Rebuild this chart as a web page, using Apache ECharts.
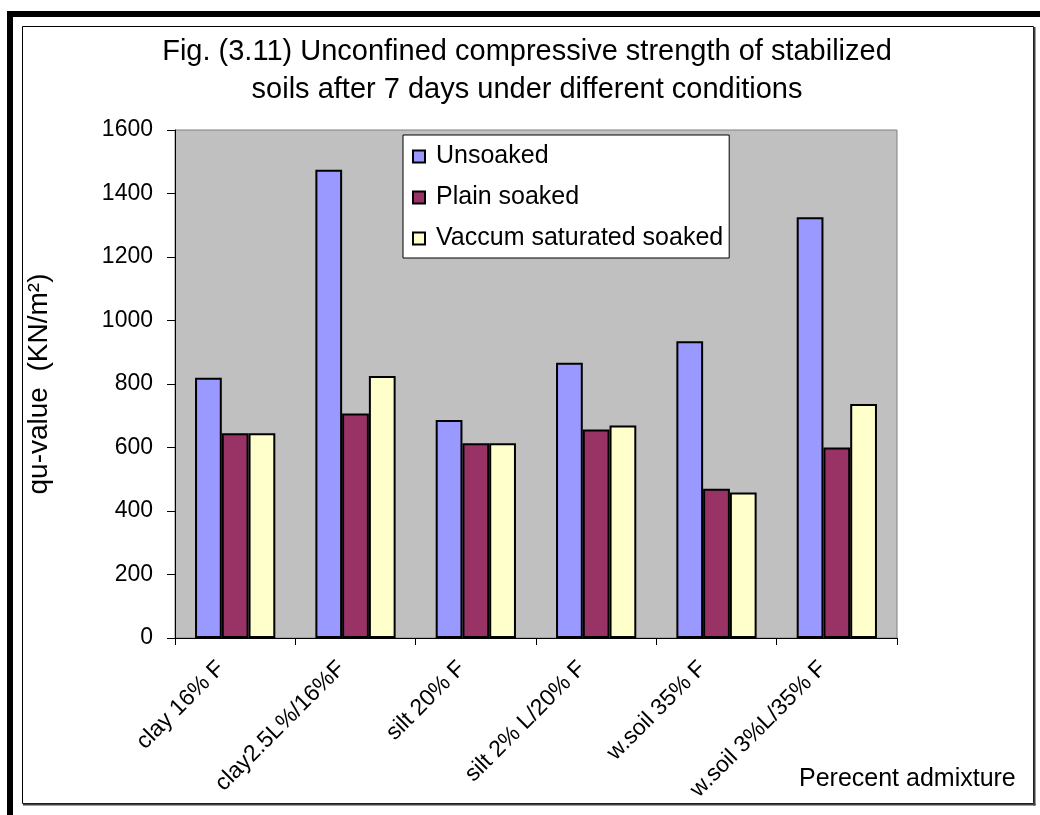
<!DOCTYPE html>
<html>
<head>
<meta charset="utf-8">
<script src="https://cdn.jsdelivr.net/npm/echarts@6/dist/echarts.min.js"></script>
<style>
  html, body { margin: 0; padding: 0; background: #ffffff; }
  #chart { width: 1040px; height: 815px; }
</style>
</head>
<body>
<div id="chart"></div>
<script>
// Soil mixes (x categories)
const categories = ['clay 16% F', 'clay2.5L%/16%F', 'silt 20% F', 'silt 2% L/20% F', 'w.soil 35% F', 'w.soil 3%L/35% F'];
// qu-value (KN/m²) after 7 days for each curing condition
const unsoaked = [820, 1475, 687, 867, 935, 1325];
const plainSoaked = [645, 707, 613, 657, 470, 600];
const vacuumSaturatedSoaked = [645, 825, 613, 669, 458, 737];
const yTicks = [0, 200, 400, 600, 800, 1000, 1200, 1400, 1600];

const FONT = "'Liberation Sans', Arial, sans-serif";

const chart = echarts.init(document.getElementById('chart'), null, { renderer: 'canvas' });

const barStyle = (color) => ({ color: color, borderColor: '#000000', borderWidth: 2 });

chart.setOption({
  backgroundColor: '#ffffff',
  animation: false,
  title: {
    text: 'Fig. (3.11) Unconfined compressive strength of stabilized\nsoils after 7 days under different conditions',
    left: 522,
    top: 28,
    textAlign: 'center',
    textStyle: { fontFamily: FONT, fontSize: 29, fontWeight: 'normal', color: '#000', lineHeight: 38 }
  },
  legend: {
    orient: 'vertical',
    left: 403,
    top: 135,
    padding: [9, 6, 7, 9],
    itemGap: 16,
    itemWidth: 12,
    itemHeight: 12,
    backgroundColor: '#ffffff',
    borderColor: '#000000',
    borderWidth: 1,
    icon: 'rect',
    textStyle: { fontFamily: FONT, fontSize: 25, color: '#000', padding: [0, 0, 0, 6] },
    data: ['Unsoaked', 'Plain soaked', 'Vaccum saturated soaked']
  },
  grid: {
    left: 175,
    right: 143,
    top: 130,
    bottom: 177,
    show: true,
    backgroundColor: '#C0C0C0',
    borderColor: '#808080',
    borderWidth: 1
  },
  xAxis: {
    type: 'category',
    data: categories,
    axisLine: { lineStyle: { color: '#000', width: 1 } },
    axisTick: { show: true, length: 7, lineStyle: { color: '#000' } },
    axisLabel: {
      rotate: 45,
      margin: 13,
      padding: [0, 20, 0, 0],
      fontFamily: FONT,
      fontSize: 23,
      color: '#000'
    },
    splitLine: { show: false }
  },
  yAxis: {
    type: 'value',
    min: 0,
    max: 1600,
    interval: 200,
    name: 'qu-value  (KN/m²)',
    nameLocation: 'middle',
    nameGap: 122,
    nameTextStyle: { fontFamily: FONT, fontSize: 28, color: '#000' },
    axisLine: { show: true, lineStyle: { color: '#000', width: 1 } },
    axisTick: { show: true, length: 8, lineStyle: { color: '#000' } },
    axisLabel: {
      margin: 22,
      fontFamily: FONT,
      fontSize: 23,
      color: '#000',
      formatter: (v) => (yTicks.indexOf(v) >= 0 ? String(v) : '')
    },
    splitLine: { show: false }
  },
  series: [
    { name: 'Unsoaked', type: 'bar', data: unsoaked, barGap: '0%', barCategoryGap: '33.3%', itemStyle: barStyle('#9999FF') },
    { name: 'Plain soaked', type: 'bar', data: plainSoaked, barGap: '0%', barCategoryGap: '33.3%', itemStyle: barStyle('#993366') },
    { name: 'Vaccum saturated soaked', type: 'bar', data: vacuumSaturatedSoaked, barGap: '0%', barCategoryGap: '33.3%', itemStyle: barStyle('#FFFFCC') }
  ],
  graphic: [
    // page border (top and left heavy rules)
    { type: 'rect', shape: { x: 7, y: 11, width: 1033, height: 6 }, style: { fill: '#000' }, silent: true },
    { type: 'rect', shape: { x: 7, y: 11, width: 6, height: 804 }, style: { fill: '#000' }, silent: true },
    // chart area frame with shadowed right/bottom edges
    { type: 'rect', shape: { x: 22.5, y: 26.5, width: 1011, height: 777 }, style: { fill: 'none', stroke: '#000', lineWidth: 1 }, silent: true },
    { type: 'line', shape: { x1: 1034.5, y1: 27, x2: 1034.5, y2: 805.5 }, style: { stroke: '#404040', lineWidth: 2 }, silent: true },
    { type: 'line', shape: { x1: 23, y1: 804.5, x2: 1035.5, y2: 804.5 }, style: { stroke: '#404040', lineWidth: 2 }, silent: true },
    // x-axis title
    {
      type: 'text',
      left: 799,
      top: 767,
      style: { text: 'Perecent admixture', fontFamily: FONT, fontSize: 25, fill: '#000' },
      silent: true
    }
  ]
});
</script>
</body>
</html>
